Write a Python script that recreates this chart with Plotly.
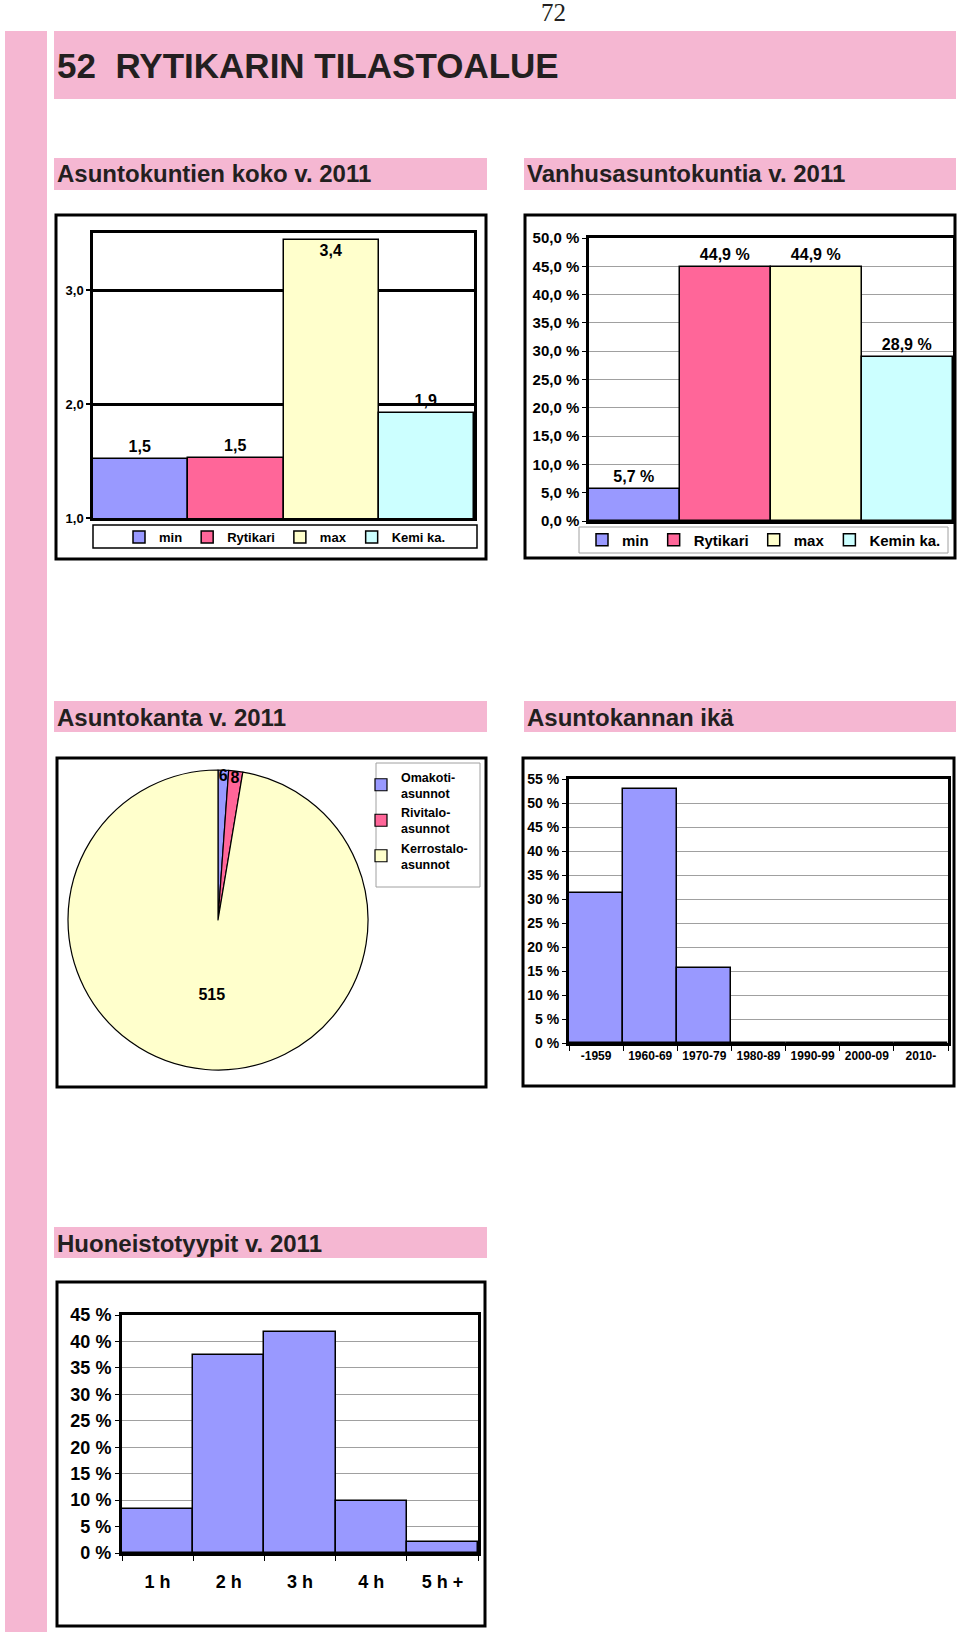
import plotly.graph_objects as go

W, H = 960, 1632

# ---- data ----
koko_cats = ["min", "Rytikari", "max", "Kemi ka."]
koko_vals = [1.52, 1.53, 3.44, 1.92]

vanhus_cats = ["min", "Rytikari", "max", "Kemin ka."]
vanhus_vals = [5.7, 44.9, 44.9, 28.9]

kanta_labels = ["Omakoti-<br>asunnot", "Rivitalo-<br>asunnot", "Kerrostalo-<br>asunnot"]
kanta_vals = [6, 8, 515]

ika_cats = ["-1959", "1960-69", "1970-79", "1980-89", "1990-99", "2000-09", "2010-"]
ika_vals = [31.2, 53.0, 15.6, 0, 0, 0, 0]

huone_cats = ["1 h", "2 h", "3 h", "4 h", "5 h +"]
huone_vals = [8.3, 37.5, 41.8, 9.9, 2.0]

# ---- styles ----
COLORS = ["#9999FF", "#FF6699", "#FFFFCC", "#CCFFFF"]
PINK = "#F5B7D2"
DARK = "#231F20"
FONT = "Liberation Sans, Arial, sans-serif"
NARROW = "Liberation Sans Narrow, Arial Narrow, Liberation Sans, sans-serif"
GRID = "#A0A0A0"


def fx(px):
    return px / W


def fy(py):
    return 1 - py / H


def dom_x(a, b):
    return [fx(a), fx(b)]


def dom_y(top, bottom):
    return [fy(bottom), fy(top)]


fig = go.Figure()

# chart 1: Asuntokuntien koko
for cat, val, col in zip(koko_cats, koko_vals, COLORS):
    fig.add_trace(go.Bar(
        x=[cat], y=[val], name=cat, marker=dict(color=col, line=dict(color="black", width=1.5)),
        texttemplate="%{y:.1f}",
        textposition="inside" if val > 3.3 else "outside",
        insidetextanchor="end",
        textfont=dict(family=FONT, size=14, color="black", weight="bold"),
        xaxis="x", yaxis="y", legend="legend", cliponaxis=False,
    ))

# chart 2: Vanhusasuntokuntia
for cat, val, col in zip(vanhus_cats, vanhus_vals, COLORS):
    fig.add_trace(go.Bar(
        x=[cat], y=[val], name=cat, marker=dict(color=col, line=dict(color="black", width=1.5)),
        texttemplate="%{y:.1f} %", textposition="outside",
        textfont=dict(family=FONT, size=13, color="black", weight="bold"),
        xaxis="x2", yaxis="y2", legend="legend2", cliponaxis=False,
    ))

# chart 3: Asuntokanta (pie)
fig.add_trace(go.Pie(
    labels=kanta_labels, values=kanta_vals, sort=False, direction="clockwise", rotation=0,
    marker=dict(colors=COLORS[:3], line=dict(color="black", width=1.2)),
    textinfo="value", textposition="inside",
    insidetextorientation="horizontal",
    textfont=dict(family=FONT, size=16, color="black", weight="bold"),
    domain=dict(x=dom_x(66, 370), y=dom_y(770, 1070)),
    legend="legend3",
))

# chart 4: Asuntokannan ika
fig.add_trace(go.Bar(
    x=ika_cats, y=ika_vals, marker=dict(color=COLORS[0], line=dict(color="black", width=1.5)),
    xaxis="x3", yaxis="y3", showlegend=False,
))

# chart 5: Huoneistotyypit
fig.add_trace(go.Bar(
    x=huone_cats, y=huone_vals, marker=dict(color=COLORS[0], line=dict(color="black", width=1.5)),
    xaxis="x4", yaxis="y4", showlegend=False,
))

frame = dict(showline=True, mirror=True, linecolor="black", zeroline=False)

fig.update_layout(
    width=W, height=H, autosize=False, template="none",
    margin=dict(l=0, r=0, t=0, b=0),
    paper_bgcolor="white", plot_bgcolor="white",
    separators=", ", barmode="overlay", bargap=0,
    showlegend=True,
    uniformtext=dict(mode="show", minsize=16),
    xaxis=dict(domain=dom_x(93, 474), anchor="y", type="category", showticklabels=False,
               showgrid=False, linewidth=2.5, ticks="", **frame),
    yaxis=dict(domain=dom_y(233, 518), anchor="x", range=[1, 3.5], tickvals=[1, 2, 3],
               tickformat=".1f", showgrid=True, gridcolor="black", gridwidth=2.5,
               ticks="outside", ticklen=4, tickwidth=2, tickcolor="black", linewidth=2.5,
               tickfont=dict(family=FONT, size=13, color="black", weight="bold"), **frame),
    xaxis2=dict(domain=dom_x(589, 953), anchor="y2", type="category", showticklabels=False,
                showgrid=False, linewidth=2.5, ticks="", **frame),
    yaxis2=dict(domain=dom_y(238, 521), anchor="x2", range=[0, 50], dtick=5, tickformat=".1f",
                ticksuffix=" %", showgrid=True, gridcolor=GRID, gridwidth=1, ticks="outside",
                ticklen=4, tickcolor="black", linewidth=2.5,
                tickfont=dict(family=FONT, size=15, color="black", weight="bold"), **frame),
    xaxis3=dict(domain=dom_x(569, 948), anchor="y3", type="category", showgrid=False,
                linewidth=3, ticks="outside", tickson="boundaries", ticklen=5, tickcolor="black",
                tickfont=dict(family=FONT, size=12, color="black", weight="bold"), **frame),
    yaxis3=dict(domain=dom_y(779, 1043), anchor="x3", range=[0, 55], dtick=5, tickformat="d",
                ticksuffix=" %", showgrid=True, gridcolor=GRID, gridwidth=1, ticks="outside",
                ticklen=4, tickcolor="black", linewidth=3,
                tickfont=dict(family=FONT, size=14, color="black", weight="bold"), **frame),
    xaxis4=dict(domain=dom_x(122, 478), anchor="y4", type="category", showgrid=False,
                linewidth=3, ticks="outside", tickson="boundaries", ticklen=5, tickcolor="black",
                ticklabelstandoff=10,
                tickfont=dict(family=NARROW, size=18, color="black", weight="bold"), **frame),
    yaxis4=dict(domain=dom_y(1315, 1553), anchor="x4", range=[0, 45], dtick=5, tickformat="d",
                ticksuffix=" %", showgrid=True, gridcolor=GRID, gridwidth=1, ticks="outside",
                ticklen=4, tickcolor="black", linewidth=3,
                tickfont=dict(family=NARROW, size=18, color="black", weight="bold"), **frame),
    legend=dict(orientation="h", x=fx(285), y=fy(537), xanchor="center", yanchor="middle",
                borderwidth=0, bgcolor="rgba(0,0,0,0)",
                font=dict(family=FONT, size=13, color="black", weight="bold")),
    legend2=dict(orientation="h", x=fx(764), y=fy(540), xanchor="center", yanchor="middle",
                 borderwidth=0, bgcolor="rgba(0,0,0,0)",
                 font=dict(family=FONT, size=15, color="black", weight="bold")),
    legend3=dict(orientation="v", x=fx(361), y=fy(762), xanchor="left", yanchor="top",
                 borderwidth=0, bgcolor="rgba(0,0,0,0)",
                 font=dict(family=FONT, size=12.5, color="black", weight="bold")),
)

# page decorations
bands = [(5, 31, 47, 1632), (54, 31, 956, 99), (54, 158, 487, 190), (524, 158, 956, 190),
         (54, 701, 487, 732), (524, 701, 956, 732), (54, 1227, 487, 1258)]
for x0, y0, x1, y1 in bands:
    fig.add_shape(type="rect", xref="paper", yref="paper", x0=fx(x0), x1=fx(x1), y0=fy(y1),
                  y1=fy(y0), fillcolor=PINK, line=dict(width=0), layer="below")

boxes = [(56, 215, 486, 559), (525, 215, 955, 558), (57, 758, 486, 1087),
         (523, 758, 954, 1086), (57, 1282, 485, 1626)]
for x0, y0, x1, y1 in boxes:
    fig.add_shape(type="rect", xref="paper", yref="paper", x0=fx(x0), x1=fx(x1), y0=fy(y1),
                  y1=fy(y0), line=dict(color="black", width=3), fillcolor="rgba(0,0,0,0)")

# legend frames
legend_boxes = [((93, 525, 477, 548), "black", 1.5), ((579, 527, 948, 553), GRID, 1),
                ((376, 763, 480, 887), GRID, 1)]
for (x0, y0, x1, y1), col, lw in legend_boxes:
    fig.add_shape(type="rect", xref="paper", yref="paper", x0=fx(x0), x1=fx(x1), y0=fy(y1),
                  y1=fy(y0), line=dict(color=col, width=lw), fillcolor="white", layer="below")

headers = [
    ("52  RYTIKARIN TILASTOALUE", 55, 66, 35),
    ("Asuntokuntien koko v. 2011", 55, 174, 24),
    ("Vanhusasuntokuntia v. 2011", 525, 174, 24),
    ("Asuntokanta v. 2011", 55, 717, 24),
    ("Asuntokannan ikä", 525, 717, 24),
    ("Huoneistotyypit v. 2011", 55, 1243, 24),
]
for txt, x, y, size in headers:
    fig.add_annotation(text=txt, x=fx(x), y=fy(y), xref="paper", yref="paper", xanchor="left",
                       yanchor="middle", showarrow=False,
                       font=dict(family=FONT, size=size, color=DARK, weight="bold"))

fig.add_annotation(text="72", x=fx(553), y=fy(13), xref="paper", yref="paper", showarrow=False,
                   xanchor="center", yanchor="middle",
                   font=dict(family="Liberation Serif, Times New Roman, serif", size=25, color=DARK))

fig.write_html("out.html", config={"displayModeBar": False},
               post_script="document.body.style.margin='0px';")
